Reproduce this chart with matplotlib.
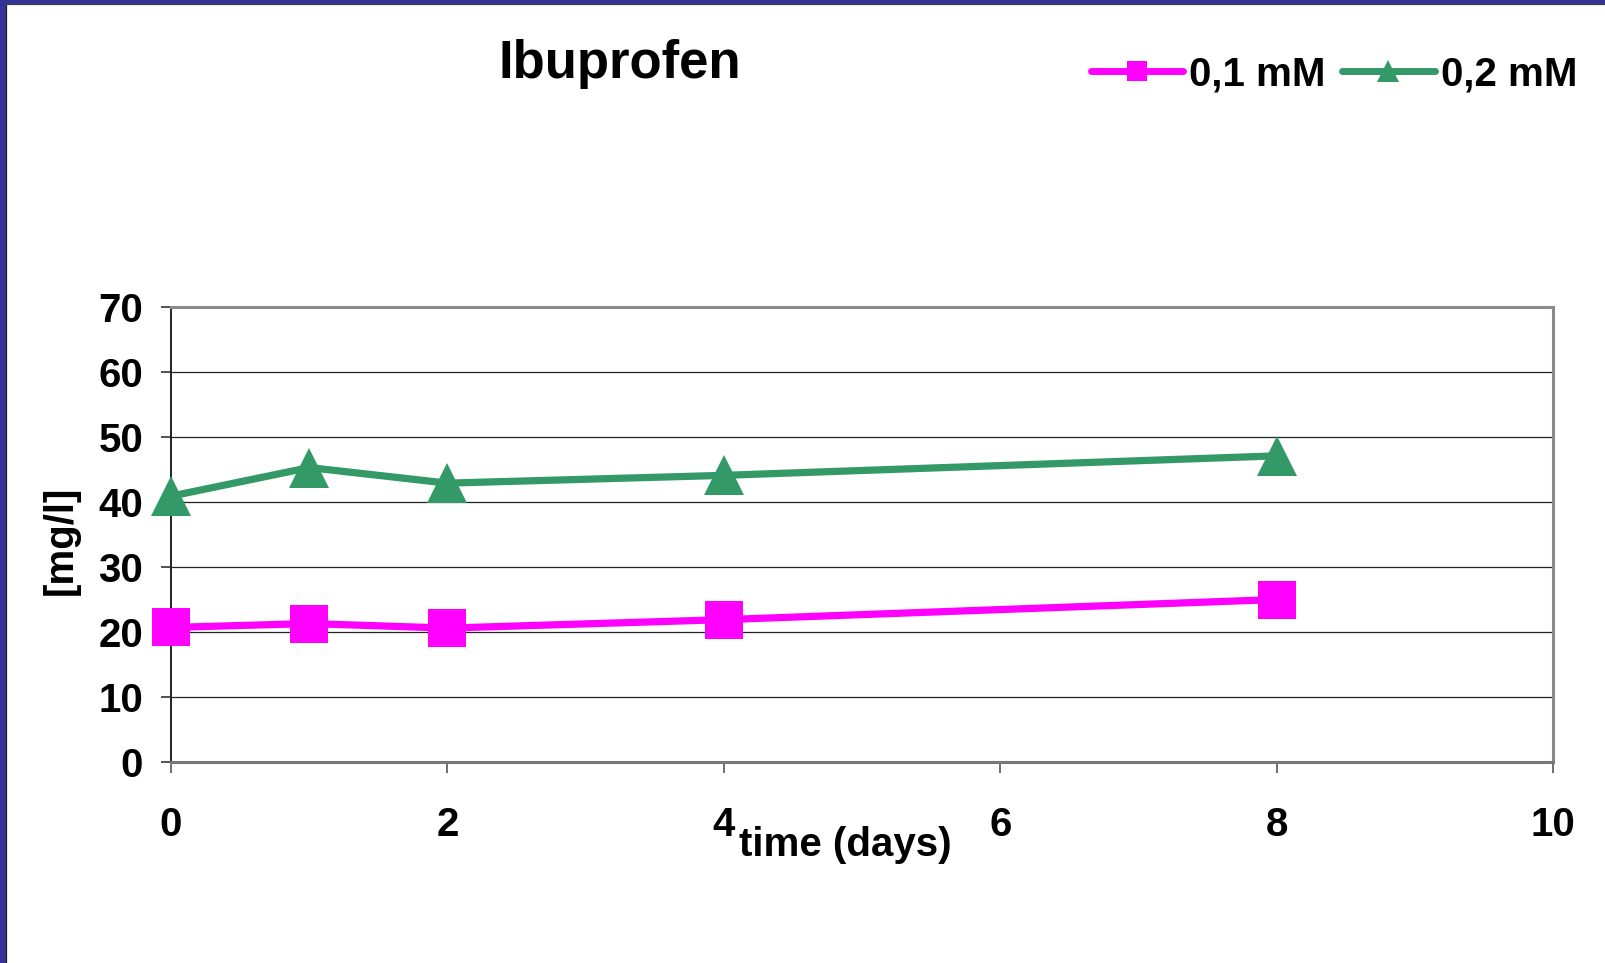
import matplotlib
matplotlib.use("Agg")
import matplotlib.pyplot as plt
from matplotlib.lines import Line2D
from matplotlib.patches import Rectangle

# Measured concentrations of ibuprofen over time
days = [0, 1, 2, 4, 8]
conc_01mM = [20.7, 21.3, 20.6, 21.9, 25.0]
conc_02mM = [40.9, 45.3, 42.9, 44.1, 47.1]
series_labels = ["0,1 mM", "0,2 mM"]
x_ticks = [0, 2, 4, 6, 8, 10]
y_ticks = [0, 10, 20, 30, 40, 50, 60, 70]

MAGENTA = "#FF00FF"
GREEN = "#339966"
FONT = "Liberation Sans"

W, H = 1606, 963
fig = plt.figure(figsize=(W / 100, H / 100), dpi=100)
fig.patch.set_facecolor("white")

# Blue frame on the left and top edges
fig.add_artist(Rectangle((0, 0), 6 / W, 1, transform=fig.transFigure,
                         facecolor="#333399", edgecolor="none", zorder=10))
fig.add_artist(Rectangle((0, 1 - 4 / H), 1, 4 / H, transform=fig.transFigure,
                         facecolor="#333399", edgecolor="none", zorder=10))
fig.add_artist(Line2D([6.5 / W, 6.5 / W], [0, 1 - 4.5 / H], transform=fig.transFigure,
                      color="#222222", lw=0.9, zorder=11))
fig.add_artist(Line2D([6.5 / W, 1], [1 - 4.5 / H, 1 - 4.5 / H], transform=fig.transFigure,
                      color="#444444", lw=0.9, zorder=11))

left, right, bottom, top = 171 / W, 1553 / W, 1 - 762 / H, 1 - 307 / H
ax = fig.add_axes([left, bottom, right - left, top - bottom])

ax.plot(days, conc_01mM, color=MAGENTA, lw=5.2, marker="s", markersize=27,
        markeredgewidth=0, clip_on=False, zorder=4, solid_capstyle="round")
ax.plot(days, conc_02mM, color=GREEN, lw=5.2, marker="^", markersize=29,
        markeredgewidth=0, clip_on=False, zorder=4, solid_capstyle="round")

ax.set_xlim(0, 10)
ax.set_ylim(0, 70)
ax.set_xticks(x_ticks)
ax.set_yticks(y_ticks)
ax.set_xticklabels([str(v) for v in x_ticks])
ax.set_yticklabels([str(v) for v in y_ticks])

for lab in ax.get_xticklabels() + ax.get_yticklabels():
    lab.set_fontfamily(FONT)
    lab.set_fontweight("bold")
    lab.set_fontsize(29)

ax.tick_params(axis="x", direction="out", length=8, width=1.2, color="#555555", pad=24)
ax.tick_params(axis="y", direction="out", length=7, width=1.2, color="#333333", pad=13)

ax.yaxis.grid(True, color="#222222", lw=0.9)
ax.set_axisbelow(True)

ax.spines["top"].set_color("#8a8a8a")
ax.spines["top"].set_linewidth(2.2)
ax.spines["right"].set_color("#8a8a8a")
ax.spines["right"].set_linewidth(2.2)
ax.spines["bottom"].set_color("#777777")
ax.spines["bottom"].set_linewidth(2.2)
ax.spines["left"].set_color("#222222")
ax.spines["left"].set_linewidth(1.4)

fig.text(620 / W, 1 - 64 / H, "Ibuprofen", fontfamily=FONT, fontweight="bold",
         fontsize=38, ha="center", va="center")
fig.text(845 / W, 1 - 845 / H, "time (days)", fontfamily=FONT, fontweight="bold",
         fontsize=29, ha="center", va="center")
fig.text(61 / W, 1 - 540 / H, "[mg/l]", fontfamily=FONT, fontweight="bold",
         fontsize=29, ha="center", va="center", rotation=90)

handles = [
    Line2D([], [], color=MAGENTA, lw=5, marker="s", markersize=14, markeredgewidth=0,
           solid_capstyle="round"),
    Line2D([], [], color=GREEN, lw=5, marker="^", markersize=16, markeredgewidth=0,
           solid_capstyle="round"),
]
leg = fig.legend(handles, series_labels, loc="center", ncol=2,
                 bbox_to_anchor=(1334 / W, 1 - 74 / H), frameon=False,
                 prop={"family": FONT, "weight": "bold", "size": 29},
                 handlelength=2.3, handletextpad=0.15, columnspacing=0.4)

fig.savefig("out.png", dpi=100, facecolor="white")
